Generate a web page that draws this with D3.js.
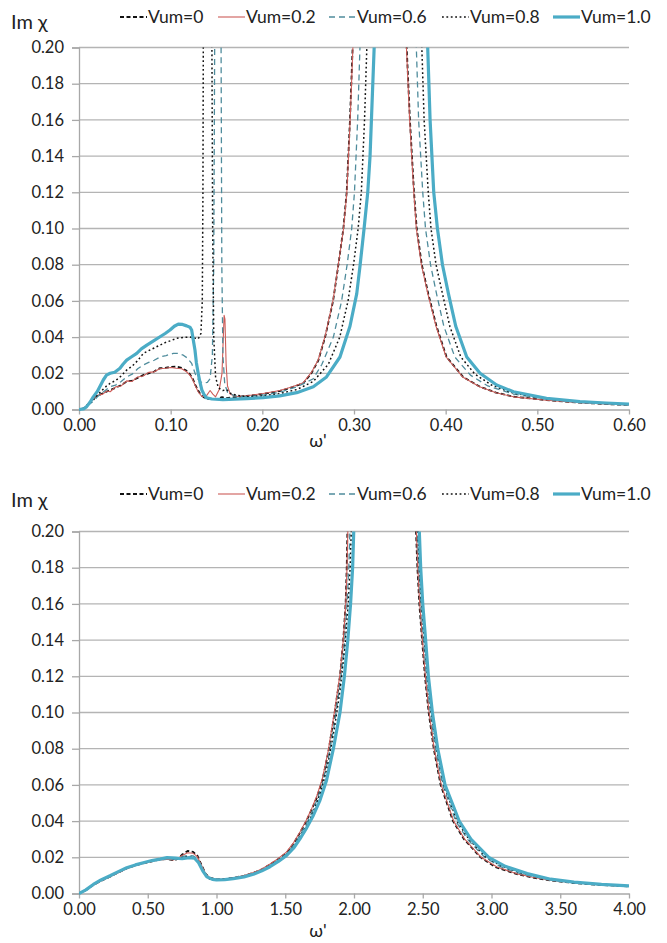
<!DOCTYPE html>
<html><head><meta charset="utf-8">
<script src="https://cdn.jsdelivr.net/npm/d3@7"></script>
<style>body{margin:0;background:#fff}svg{display:block}</style>
</head><body>
<svg id="c" width="667" height="943"></svg>
<script>
// ---------------- DATA ----------------
const seriesNames = ["Vum=0", "Vum=0.2", "Vum=0.6", "Vum=0.8", "Vum=1.0"];
const yTicks = [0, 0.02, 0.04, 0.06, 0.08, 0.10, 0.12, 0.14, 0.16, 0.18, 0.20];
const topXTicks = [0, 0.1, 0.2, 0.3, 0.4, 0.5, 0.6];
const bottomXTicks = [0, 0.5, 1.0, 1.5, 2.0, 2.5, 3.0, 3.5, 4.0];
const yLabel = "Im \u03C7";
const xLabel = "\u03C9'";

// top chart (ω' 0 – 0.6)
const topV0 = [[0,0],[0.005,0.0005],[0.008,0.0015],[0.012,0.004],[0.016,0.0065],[0.02,0.0075],[0.026,0.009],[0.03,0.0098],[0.034,0.0108],[0.04,0.012],[0.046,0.0135],[0.052,0.0154],[0.058,0.016],[0.064,0.0175],[0.07,0.019],[0.076,0.02],[0.082,0.021],[0.088,0.0228],[0.094,0.023],[0.1,0.0235],[0.106,0.0237],[0.112,0.023],[0.117,0.0215],[0.121,0.0195],[0.124,0.017],[0.127,0.0135],[0.13,0.0105],[0.133,0.008],[0.137,0.0064],[0.142,0.0058],[0.15,0.0057],[0.156,0.0068],[0.16,0.0062],[0.17,0.0068],[0.183,0.0075],[0.201,0.0086],[0.219,0.0102],[0.232,0.0122],[0.2447,0.0145],[0.2535,0.02],[0.261,0.027],[0.2685,0.04],[0.2772,0.06],[0.283,0.08],[0.2884,0.1],[0.292,0.12],[0.2956,0.16],[0.2985,0.2],[0.301,0.25],[0.355,0.25],[0.3575,0.2],[0.361,0.16],[0.3655,0.12],[0.3684,0.1],[0.374,0.08],[0.381,0.064],[0.39,0.046],[0.401,0.029],[0.419,0.018],[0.4375,0.0126],[0.455,0.0093],[0.474,0.0071],[0.51,0.0052],[0.5465,0.0038],[0.575,0.003],[0.6,0.0025]];
const topV02 = [[0,0],[0.005,0.0005],[0.008,0.002],[0.012,0.0045],[0.016,0.006],[0.02,0.0078],[0.026,0.0085],[0.03,0.0102],[0.034,0.0098],[0.04,0.0125],[0.046,0.013],[0.052,0.0158],[0.058,0.0155],[0.064,0.018],[0.07,0.0185],[0.076,0.0205],[0.082,0.0208],[0.088,0.0225],[0.094,0.0228],[0.1,0.0232],[0.106,0.0228],[0.112,0.0225],[0.117,0.021],[0.121,0.019],[0.124,0.0165],[0.127,0.013],[0.13,0.0098],[0.134,0.0072],[0.139,0.0075],[0.143,0.0105],[0.146,0.0085],[0.149,0.007],[0.153,0.011],[0.156,0.02],[0.1583,0.052],[0.1592,0.05],[0.1605,0.025],[0.162,0.013],[0.165,0.0085],[0.172,0.0072],[0.183,0.0076],[0.201,0.0088],[0.219,0.0105],[0.232,0.0124],[0.2447,0.0148],[0.2535,0.0205],[0.261,0.0275],[0.2685,0.0405],[0.2772,0.0605],[0.283,0.0805],[0.2886,0.1],[0.2922,0.12],[0.2958,0.16],[0.2988,0.2],[0.3012,0.25],[0.3548,0.25],[0.3572,0.2],[0.3607,0.16],[0.3652,0.12],[0.368,0.1],[0.3735,0.08],[0.3805,0.064],[0.3895,0.046],[0.4005,0.029],[0.4185,0.018],[0.437,0.0126],[0.455,0.0093],[0.474,0.007],[0.51,0.0051],[0.5465,0.0037],[0.575,0.003],[0.6,0.0025]];
const topV06 = [[0,0],[0.006,0.001],[0.01,0.0025],[0.0156,0.0045],[0.02,0.007],[0.026,0.0095],[0.034,0.0126],[0.04,0.0135],[0.046,0.0155],[0.052,0.018],[0.058,0.0195],[0.064,0.0225],[0.0702,0.0246],[0.076,0.026],[0.082,0.0272],[0.0884,0.029],[0.095,0.0298],[0.1029,0.031],[0.108,0.031],[0.1138,0.03],[0.118,0.0285],[0.1229,0.0255],[0.128,0.018],[0.132,0.0155],[0.1356,0.0145],[0.14,0.015],[0.143,0.017],[0.1455,0.03],[0.147,0.08],[0.148,0.2],[0.1485,0.26],[0.1545,0.26],[0.155,0.2],[0.1558,0.08],[0.157,0.03],[0.159,0.014],[0.162,0.0095],[0.17,0.0075],[0.183,0.007],[0.201,0.008],[0.219,0.0095],[0.2375,0.0125],[0.2556,0.017],[0.265,0.025],[0.2775,0.04],[0.2865,0.06],[0.2925,0.08],[0.2975,0.1],[0.3005,0.12],[0.304,0.16],[0.3065,0.2],[0.309,0.25],[0.3655,0.25],[0.368,0.2],[0.3705,0.16],[0.375,0.12],[0.378,0.1],[0.3835,0.08],[0.39,0.064],[0.398,0.046],[0.41,0.029],[0.427,0.019],[0.446,0.013],[0.474,0.0085],[0.51,0.0057],[0.5465,0.0041],[0.575,0.0033],[0.6,0.0027]];
const topV08 = [[0,0],[0.006,0.001],[0.01,0.003],[0.0156,0.0052],[0.02,0.008],[0.026,0.011],[0.03,0.013],[0.034,0.0145],[0.04,0.016],[0.046,0.0185],[0.052,0.0218],[0.058,0.024],[0.064,0.027],[0.0702,0.031],[0.076,0.0325],[0.082,0.034],[0.0884,0.0356],[0.095,0.0372],[0.1,0.038],[0.1065,0.0393],[0.114,0.0398],[0.121,0.04],[0.126,0.0395],[0.13,0.039],[0.133,0.042],[0.1345,0.06],[0.1352,0.12],[0.1356,0.2],[0.136,0.26],[0.1445,0.26],[0.145,0.2],[0.1458,0.1],[0.147,0.04],[0.149,0.018],[0.152,0.012],[0.157,0.0105],[0.161,0.011],[0.165,0.009],[0.172,0.0078],[0.183,0.0072],[0.201,0.0075],[0.219,0.0088],[0.2375,0.011],[0.2556,0.0155],[0.272,0.025],[0.2845,0.04],[0.2935,0.06],[0.2995,0.08],[0.3045,0.1],[0.308,0.12],[0.3115,0.16],[0.314,0.2],[0.3165,0.25],[0.3715,0.25],[0.374,0.2],[0.3765,0.16],[0.381,0.12],[0.384,0.1],[0.3895,0.08],[0.3965,0.064],[0.4045,0.046],[0.4165,0.029],[0.432,0.0195],[0.45,0.0135],[0.474,0.009],[0.51,0.006],[0.5465,0.0043],[0.575,0.0034],[0.6,0.0028]];
const topV10 = [[0,0],[0.005,0.0003],[0.0084,0.0016],[0.012,0.004],[0.0156,0.007],[0.02,0.01],[0.0265,0.0163],[0.03,0.019],[0.034,0.02],[0.039,0.0206],[0.0447,0.0228],[0.048,0.025],[0.052,0.0273],[0.057,0.029],[0.063,0.031],[0.068,0.0335],[0.074,0.0356],[0.08,0.0375],[0.0884,0.0402],[0.094,0.042],[0.0993,0.0439],[0.104,0.046],[0.1083,0.0472],[0.113,0.047],[0.1175,0.0462],[0.121,0.0455],[0.1229,0.0439],[0.1245,0.039],[0.1265,0.0329],[0.128,0.026],[0.13,0.02],[0.132,0.015],[0.134,0.0108],[0.1365,0.0082],[0.139,0.0065],[0.145,0.0058],[0.157,0.0055],[0.17,0.0057],[0.183,0.006],[0.201,0.0066],[0.219,0.0075],[0.2375,0.0093],[0.2556,0.0126],[0.27,0.018],[0.2847,0.029],[0.2956,0.046],[0.303,0.064],[0.3067,0.08],[0.311,0.1],[0.315,0.12],[0.3175,0.14],[0.319,0.16],[0.3205,0.18],[0.322,0.2],[0.324,0.25],[0.3785,0.25],[0.3804,0.2],[0.383,0.16],[0.387,0.12],[0.391,0.1],[0.3965,0.08],[0.403,0.064],[0.411,0.046],[0.423,0.029],[0.4375,0.02],[0.4556,0.0135],[0.474,0.0098],[0.51,0.0062],[0.5465,0.0044],[0.575,0.0036],[0.6,0.003]];

// bottom chart (ω' 0 – 4)
const botV0 = [[0,0],[0.05,0.0018],[0.104,0.0047],[0.16,0.007],[0.2255,0.0093],[0.29,0.0118],[0.347,0.0139],[0.41,0.0155],[0.468,0.0167],[0.53,0.0178],[0.589,0.0187],[0.64,0.019],[0.69,0.0183],[0.72,0.0192],[0.75,0.0215],[0.79,0.0235],[0.83,0.023],[0.86,0.021],[0.89,0.016],[0.92,0.011],[0.95,0.0088],[1.0,0.0078],[1.06,0.008],[1.122,0.0086],[1.2,0.0098],[1.268,0.0114],[1.33,0.0133],[1.389,0.016],[1.45,0.019],[1.51,0.0225],[1.56,0.0275],[1.607,0.0335],[1.65,0.0395],[1.69,0.046],[1.73,0.053],[1.77,0.0625],[1.813,0.078],[1.857,0.099],[1.898,0.12],[1.922,0.14],[1.939,0.16],[1.947,0.18],[1.952,0.2],[1.957,0.25],[2.445,0.25],[2.451,0.2],[2.461,0.18],[2.475,0.16],[2.495,0.14],[2.516,0.12],[2.543,0.1],[2.58,0.08],[2.63,0.06],[2.72,0.04],[2.8,0.03],[2.92,0.02],[3.03,0.0145],[3.18,0.0108],[3.3,0.0088],[3.43,0.0072],[3.6,0.0058],[3.8,0.0047],[4.0,0.0039]];
const botV02 = [[0,0],[0.05,0.0017],[0.104,0.0046],[0.16,0.0069],[0.2255,0.0092],[0.29,0.0116],[0.347,0.0137],[0.41,0.0154],[0.468,0.0166],[0.53,0.0177],[0.589,0.0186],[0.64,0.019],[0.69,0.0186],[0.72,0.0195],[0.75,0.021],[0.79,0.0225],[0.83,0.0222],[0.86,0.0205],[0.89,0.0158],[0.92,0.011],[0.95,0.0087],[1.0,0.0078],[1.06,0.008],[1.122,0.0087],[1.2,0.0099],[1.268,0.0116],[1.33,0.0136],[1.389,0.0163],[1.45,0.0194],[1.51,0.023],[1.56,0.028],[1.607,0.034],[1.65,0.04],[1.69,0.0465],[1.73,0.054],[1.77,0.0635],[1.813,0.079],[1.857,0.1],[1.898,0.121],[1.922,0.14],[1.94,0.16],[1.949,0.18],[1.955,0.2],[1.96,0.25],[2.448,0.25],[2.454,0.2],[2.464,0.18],[2.478,0.16],[2.498,0.14],[2.519,0.12],[2.546,0.1],[2.583,0.08],[2.634,0.06],[2.725,0.04],[2.805,0.03],[2.925,0.02],[3.04,0.0146],[3.19,0.0108],[3.31,0.0088],[3.44,0.0072],[3.6,0.0059],[3.8,0.0047],[4.0,0.0039]];
const botV06 = [[0,0],[0.05,0.0019],[0.104,0.0048],[0.16,0.0072],[0.2255,0.0095],[0.29,0.012],[0.347,0.014],[0.41,0.0156],[0.468,0.0168],[0.53,0.018],[0.589,0.0188],[0.64,0.0194],[0.69,0.019],[0.72,0.0192],[0.75,0.0203],[0.79,0.021],[0.83,0.0208],[0.86,0.0192],[0.89,0.0148],[0.92,0.0103],[0.95,0.0083],[1.0,0.0076],[1.06,0.0078],[1.122,0.0084],[1.2,0.0095],[1.268,0.011],[1.33,0.0129],[1.389,0.0154],[1.45,0.0185],[1.51,0.022],[1.56,0.0265],[1.607,0.0322],[1.65,0.038],[1.69,0.044],[1.73,0.0515],[1.77,0.0605],[1.813,0.0745],[1.857,0.0935],[1.898,0.115],[1.93,0.137],[1.95,0.16],[1.962,0.18],[1.97,0.2],[1.976,0.25],[2.455,0.25],[2.461,0.2],[2.471,0.18],[2.486,0.16],[2.506,0.14],[2.527,0.12],[2.555,0.1],[2.593,0.08],[2.645,0.06],[2.74,0.04],[2.825,0.03],[2.95,0.02],[3.065,0.0148],[3.21,0.011],[3.33,0.009],[3.45,0.0074],[3.6,0.006],[3.8,0.0048],[4.0,0.004]];
const botV08 = [[0,0],[0.05,0.002],[0.104,0.0049],[0.16,0.0073],[0.2255,0.0096],[0.29,0.0121],[0.347,0.0141],[0.41,0.0157],[0.468,0.0169],[0.53,0.0181],[0.589,0.0189],[0.64,0.0196],[0.69,0.0192],[0.72,0.0193],[0.75,0.0198],[0.79,0.0205],[0.83,0.0203],[0.86,0.0186],[0.89,0.0142],[0.92,0.0098],[0.95,0.008],[1.0,0.0075],[1.06,0.0077],[1.122,0.0083],[1.2,0.0093],[1.268,0.0108],[1.33,0.0127],[1.389,0.0151],[1.45,0.0181],[1.51,0.0214],[1.56,0.0258],[1.607,0.0312],[1.65,0.0368],[1.69,0.0428],[1.73,0.05],[1.77,0.059],[1.813,0.0725],[1.857,0.091],[1.898,0.112],[1.935,0.137],[1.958,0.16],[1.972,0.18],[1.98,0.2],[1.986,0.25],[2.46,0.25],[2.466,0.2],[2.476,0.18],[2.491,0.16],[2.512,0.14],[2.533,0.12],[2.561,0.1],[2.6,0.08],[2.653,0.06],[2.75,0.04],[2.835,0.03],[2.96,0.02],[3.08,0.0149],[3.23,0.0111],[3.35,0.0091],[3.46,0.0076],[3.6,0.0061],[3.8,0.0049],[4.0,0.0041]];
const botV10 = [[0,0],[0.05,0.002],[0.104,0.005],[0.16,0.0075],[0.2255,0.0098],[0.29,0.0122],[0.347,0.0142],[0.41,0.0158],[0.468,0.017],[0.53,0.0182],[0.589,0.019],[0.64,0.0198],[0.7,0.0195],[0.75,0.0192],[0.8,0.0198],[0.84,0.0195],[0.87,0.017],[0.9,0.0125],[0.93,0.0092],[0.97,0.0078],[1.0,0.0075],[1.06,0.0077],[1.122,0.0082],[1.2,0.0092],[1.268,0.0106],[1.33,0.0125],[1.389,0.0148],[1.45,0.0177],[1.51,0.021],[1.56,0.025],[1.607,0.0302],[1.65,0.0355],[1.7,0.0425],[1.75,0.051],[1.8,0.0625],[1.85,0.08],[1.898,0.1],[1.93,0.12],[1.955,0.14],[1.975,0.16],[1.99,0.18],[1.998,0.2],[2.004,0.25],[2.468,0.25],[2.475,0.2],[2.485,0.18],[2.5,0.16],[2.521,0.14],[2.541,0.12],[2.57,0.1],[2.609,0.08],[2.662,0.06],[2.765,0.04],[2.85,0.03],[2.98,0.02],[3.1,0.015],[3.26,0.011],[3.43,0.0079],[3.6,0.0063],[3.8,0.005],[4.0,0.0042]];

const topSeries = [topV0, topV02, topV06, topV08, topV10];
const bottomSeries = [botV0, botV02, botV06, botV08, botV10];

// ---------------- STYLE ----------------
const styles = [
  {color: "#111111", width: 1.8, dash: "4,2.5"},
  {color: "#cd5c58", width: 1.1, dash: null},
  {color: "#4f8c9c", width: 1.3, dash: "6,4"},
  {color: "#111111", width: 1.5, dash: "1.8,2.6"},
  {color: "#4bacc6", width: 3.2, dash: null}
];
const FONT = "Lato, 'Open Sans', sans-serif";
const svg = d3.select("#c");

function drawChart(cfg) {
  const {top, bottom, left, right, xMax, xTicks, data, legendY, titleY, xLabelY, id} = cfg;
  const x = d3.scaleLinear().domain([0, xMax]).range([left, right]);
  const y = d3.scaleLinear().domain([0, 0.2]).range([bottom, top]);
  const g = svg.append("g");

  // gridlines
  g.append("g").selectAll("line").data(yTicks.slice(1)).join("line")
    .attr("x1", left).attr("x2", right)
    .attr("y1", d => y(d)).attr("y2", d => y(d))
    .attr("stroke", "#b4b4b4").attr("stroke-width", 1.3);

  // y axis
  const ya = g.append("g").attr("transform", `translate(${left},0)`)
    .call(d3.axisLeft(y).tickValues(yTicks).tickFormat(d3.format(".2f")).tickSize(7).tickPadding(8));
  ya.select(".domain").attr("stroke", "#a8a8a8").attr("stroke-width", 1.3);
  ya.selectAll(".tick line").attr("stroke", "#a8a8a8").attr("stroke-width", 1.3);
  ya.selectAll("text").attr("fill", "#222").style("font", `16.5px ${FONT}`);

  // x axis
  const xa = g.append("g").attr("transform", `translate(0,${bottom})`)
    .call(d3.axisBottom(x).tickValues(xTicks).tickFormat(d3.format(".2f")).tickSize(5).tickSizeOuter(0).tickPadding(5));
  xa.select(".domain").attr("stroke", "#a8a8a8").attr("stroke-width", 1.3);
  xa.selectAll(".tick line").attr("stroke", "#a8a8a8").attr("stroke-width", 1.3);
  xa.selectAll("text").attr("fill", "#222").style("font", `16.5px ${FONT}`);

  // clip
  svg.append("defs").append("clipPath").attr("id", id)
    .append("rect").attr("x", left).attr("y", top).attr("width", right - left).attr("height", bottom - top + 2);

  const line = d3.line().x(d => x(d[0])).y(d => y(d[1]));
  const lines = g.append("g").attr("clip-path", `url(#${id})`);
  data.forEach((s, i) => {
    const st = styles[i];
    lines.append("path").datum(s).attr("d", line)
      .attr("fill", "none").attr("stroke", st.color).attr("stroke-width", st.width)
      .attr("stroke-dasharray", st.dash).attr("stroke-linejoin", "round");
  });

  // axis titles
  g.append("text").attr("x", 11).attr("y", titleY).text(yLabel)
    .attr("fill", "#222").style("font", `20px ${FONT}`);
  g.append("text").attr("x", 318).attr("y", xLabelY).attr("text-anchor", "middle").text(xLabel)
    .attr("fill", "#222").style("font", `18px ${FONT}`);

  // legend
  const legX = [120, 218, 329, 442, 553];
  const lg = g.append("g");
  seriesNames.forEach((n, i) => {
    const st = styles[i];
    lg.append("line").attr("x1", legX[i]).attr("x2", legX[i] + 27)
      .attr("y1", legendY).attr("y2", legendY)
      .attr("stroke", st.color).attr("stroke-width", i === 4 ? 3.2 : (i === 0 ? 2.2 : st.width))
      .attr("stroke-dasharray", st.dash);
    lg.append("text").attr("x", legX[i] + 28).attr("y", legendY).attr("dy", "0.35em")
      .text(n).attr("fill", "#222").style("font", `17.5px ${FONT}`);
  });
}

drawChart({id: "clipTop", top: 47.5, bottom: 409.5, left: 79, right: 629, xMax: 0.6, xTicks: topXTicks,
  data: topSeries, legendY: 17, titleY: 29, xLabelY: 447});
drawChart({id: "clipBot", top: 531.5, bottom: 893.5, left: 79, right: 629, xMax: 4, xTicks: bottomXTicks,
  data: bottomSeries, legendY: 494, titleY: 507, xLabelY: 937});
</script>
</body></html>
